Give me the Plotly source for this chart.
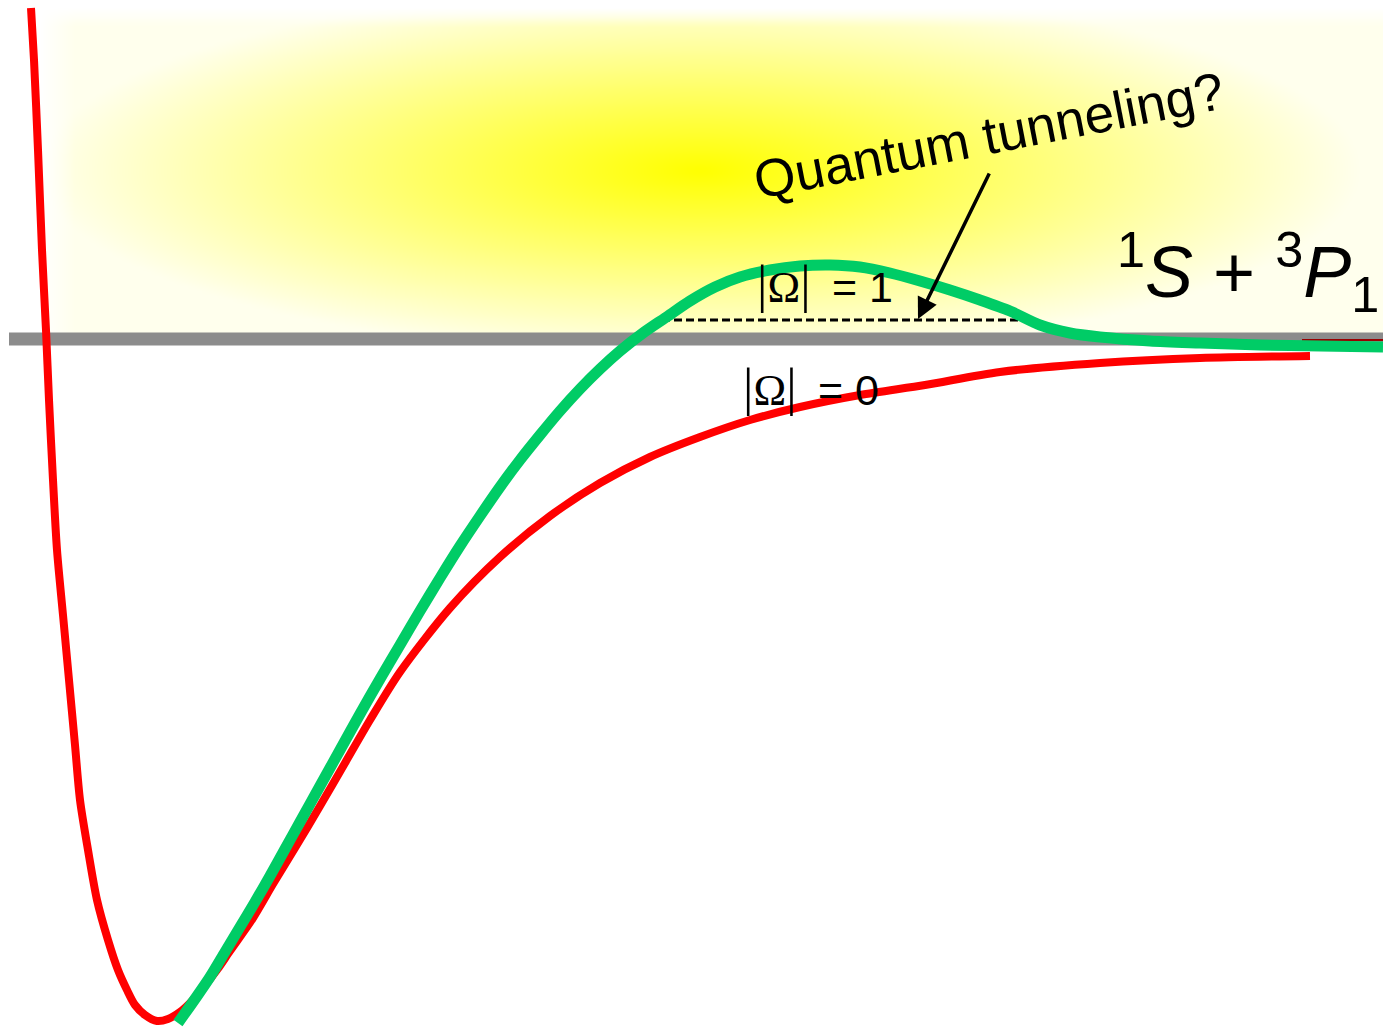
import numpy as np
import plotly.graph_objects as go

# Potential curves in arbitrary units: R = internuclear distance, E = energy
# (E = 0 is the 1S + 3P1 dissociation asymptote)
R_OMEGA0 = [0.31, 0.34, 0.38, 0.42, 0.46, 0.49, 0.53, 0.57, 0.63, 0.69, 0.75, 0.80,
            0.88, 0.97, 1.08, 1.18, 1.27, 1.35, 1.45, 1.57, 1.68, 1.80, 1.90, 2.03,
            2.17, 2.30, 2.53, 2.73, 2.95, 3.20, 3.45, 3.70, 4.00, 4.50, 5.00, 5.50,
            6.00, 6.50, 7.00, 7.50, 8.00, 8.60, 9.25, 10.00, 11.00, 12.00, 13.10]
E_OMEGA0 = [3.31, 2.79, 1.89, 0.89, 0.09, -0.61, -1.41, -2.11, -2.76, -3.41, -4.06,
            -4.61, -5.11, -5.61, -6.01, -6.31, -6.51, -6.66, -6.76, -6.82, -6.80,
            -6.73, -6.64, -6.49, -6.31, -6.12, -5.79, -5.45, -5.09, -4.67, -4.24,
            -3.81, -3.33, -2.69, -2.18, -1.77, -1.44, -1.18, -0.98, -0.81, -0.68,
            -0.56, -0.46, -0.33, -0.24, -0.19, -0.17]

R_OMEGA1 = [1.78, 1.95, 2.10, 2.25, 2.40, 2.55, 2.70, 2.85, 3.00, 3.20, 3.40, 3.60,
            3.80, 4.00, 4.20, 4.40, 4.60, 4.80, 5.00, 5.20, 5.40, 5.60, 5.80, 6.00,
            6.20, 6.43, 6.65, 6.90, 7.15, 7.40, 7.70, 8.00, 8.30, 8.60, 8.90, 9.20,
            9.50, 9.80, 10.10, 10.40, 10.70, 11.00, 11.50, 12.00, 12.60, 13.20, 13.83]
E_OMEGA1 = [-6.84, -6.60, -6.38, -6.13, -5.88, -5.63, -5.37, -5.10, -4.83, -4.47,
            -4.11, -3.75, -3.40, -3.06, -2.72, -2.39, -2.07, -1.77, -1.48, -1.21,
            -0.96, -0.72, -0.50, -0.30, -0.12, 0.06, 0.21, 0.38, 0.52, 0.62, 0.69,
            0.73, 0.74, 0.72, 0.66, 0.58, 0.49, 0.39, 0.28, 0.14, 0.06, 0.02, -0.02,
            -0.04, -0.06, -0.07, -0.08]

# Asymptote, quasi-bound level and the short dark tail of the |Omega| = 0 curve
ASYMPTOTE_E = 0.0
ASYMPTOTE_R = [0.09, 13.83]
LEVEL_E = 0.19
LEVEL_R = [6.62, 10.30]
TAIL_R = [13.02, 13.83]
TAIL_E = [-0.01, -0.01]

X_RANGE = [0.0, 13.83]
Y_RANGE = [-6.96, 3.39]

fig = go.Figure()

# Soft yellow glow above the asymptote: elliptical falloff over a faint base tint
gx = np.linspace(0.40, 13.83, 270)
gy = np.linspace(0.06, 3.31, 70)
GX, GY = np.meshgrid(gx, gy)
d = np.sqrt(((GX - 7.0) / 6.6) ** 2 + ((GY - 1.69) / 1.85) ** 2)
glow = 0.07 + 0.93 * np.clip(1.0 - d, 0.0, 1.0)
glow *= np.clip((3.31 - GY) / 0.18, 0.0, 1.0)
glow *= np.clip((GX - 0.40) / 0.35, 0.0, 1.0)
fig.add_trace(go.Heatmap(
    x=gx, y=gy, z=glow, zmin=0, zmax=1, zsmooth="best",
    colorscale=[[0, "#ffffff"], [1, "#ffff00"]],
    showscale=False, hoverinfo="skip"))

fig.add_trace(go.Scatter(
    x=ASYMPTOTE_R, y=[ASYMPTOTE_E, ASYMPTOTE_E], mode="lines",
    line=dict(color="#8c8c8c", width=13), hoverinfo="skip"))

fig.add_trace(go.Scatter(
    x=TAIL_R, y=TAIL_E, mode="lines",
    line=dict(color="#990000", width=2), hoverinfo="skip"))

fig.add_trace(go.Scatter(
    x=R_OMEGA0, y=E_OMEGA0, mode="lines",
    line=dict(color="#ff0000", width=8, shape="spline", smoothing=0.8),
    hoverinfo="skip"))

fig.add_trace(go.Scatter(
    x=LEVEL_R, y=[LEVEL_E, LEVEL_E], mode="lines",
    line=dict(color="#000000", width=3, dash="8px,4px"), hoverinfo="skip"))

fig.add_trace(go.Scatter(
    x=R_OMEGA1, y=E_OMEGA1, mode="lines",
    line=dict(color="#00cc66", width=11, shape="spline", smoothing=0.8),
    hoverinfo="skip"))

SANS = "Liberation Sans, Arial, sans-serif"
SERIF = "Liberation Serif, Times New Roman, serif"
bar = '<span style="font-family:%s;font-size:52px">|</span>' % SERIF
om = '<span style="font-family:%s;font-size:44px">Ω</span>' % SERIF
omega = bar + om + bar

fig.add_annotation(x=7.55, y=0.55, xanchor="left", text=omega + "\u2002= 1",
                   showarrow=False, font=dict(family=SANS, size=43, color="#000000"))
fig.add_annotation(x=7.41, y=-0.48, xanchor="left", text=omega + "\u2002= 0",
                   showarrow=False, font=dict(family=SANS, size=43, color="#000000"))
fig.add_annotation(x=9.88, y=2.04, text="Quantum tunneling?", showarrow=False,
                   textangle=-11, font=dict(family=SANS, size=53, color="#000000"))
fig.add_annotation(x=13.81, y=0.67, xanchor="right",
                   text="<sup>1</sup><i>S</i> + <sup>3</sup><i>P</i><sub>1</sub>",
                   showarrow=False, font=dict(family=SANS, size=72, color="#000000"))
fig.add_annotation(x=9.18, y=0.20, ax=9.90, ay=1.67, axref="x", ayref="y",
                   text="", showarrow=True, arrowhead=2, arrowsize=1.2,
                   arrowwidth=3.5, arrowcolor="#000000", standoff=0)

fig.update_layout(
    width=1383, height=1035,
    margin=dict(l=0, r=0, t=0, b=0),
    paper_bgcolor="#ffffff", plot_bgcolor="#ffffff",
    showlegend=False,
    xaxis=dict(range=X_RANGE, visible=False, fixedrange=True),
    yaxis=dict(range=Y_RANGE, visible=False, fixedrange=True),
)

fig.write_html("out.html", config={"displayModeBar": False})
